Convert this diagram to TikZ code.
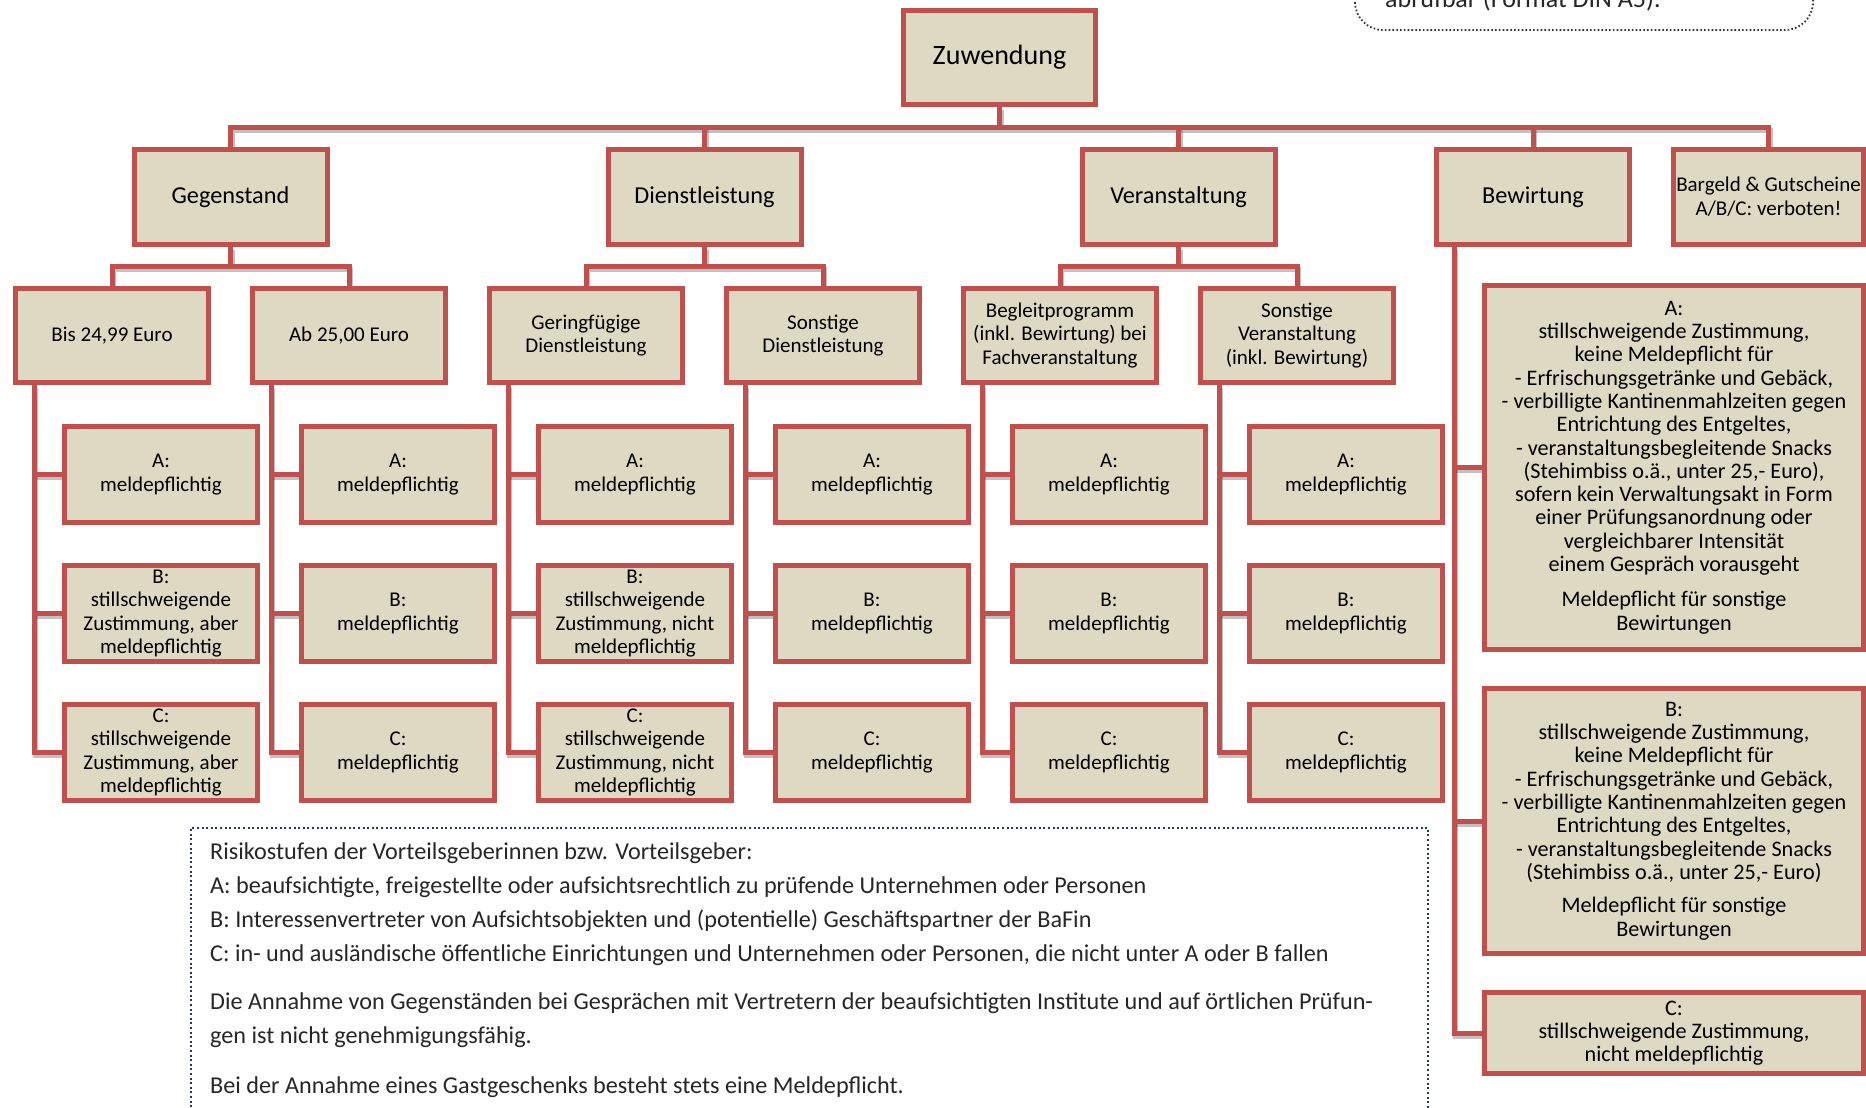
\documentclass[tikz,border=0pt]{standalone}
\usepackage{fontspec}
\setmainfont{Carlito}
\pgfdeclarelayer{bg}
\pgfsetlayers{bg,main}
\definecolor{boxred}{HTML}{C0504D}
\definecolor{boxfill}{HTML}{DDD9C3}
\definecolor{legnavy}{HTML}{1F3864}
\tikzset{
  box/.style={draw=boxred, fill=boxfill, line width=5pt, inner sep=0pt, align=center, text=black},
  lzero/.style={box, minimum width=192pt, minimum height=94pt, font=\fontsize{28}{32}\selectfont},
  lone/.style={box, minimum width=193pt, minimum height=95pt, font=\fontsize{24.3}{28}\selectfont},
  ltwo/.style={box, minimum width=193pt, minimum height=94pt, font=\fontsize{21}{23.3}\selectfont},
  lthree/.style={box, minimum width=193pt, minimum height=96pt, font=\fontsize{21}{23.3}\selectfont},
  lbew/.style={box, minimum width=379pt, font=\fontsize{22.2}{23.3}\selectfont},
  conn/.style={draw=boxred, line width=5pt, line join=miter,
    preaction={draw=black!70, opacity=0.35, line width=5pt, transform canvas={xshift=1.5pt, yshift=-3pt}}},
  legtext/.style={anchor=base west, inner sep=0pt, text=black!85, font=\fontsize{24.2}{33}\selectfont},
}
\begin{document}
\begin{tikzpicture}[x=1pt,y=-1pt]
\useasboundingbox (0,0) rectangle (1866,1108);
\clip (0,0) rectangle (1866,1108);

% top-right note box (cut off)
\draw[black!80, line width=1.8pt, dash pattern=on 1.6pt off 2.2pt, rounded corners=28pt]
  (1355,-60) rectangle (1813,30);
\node[anchor=base west, inner sep=0pt, text=black!85, font=\fontsize{26}{30}\selectfont] (note) at (1385,8) {abrufbar (Format DIN A5).};

% root
\node[lzero] (zuw) at (999.5,57.5) {Zuwendung};
% level 1
\node[lone] (geg) at (230.5,197) {Gegenstand};
\node[lone] (dl)  at (704.5,197) {Dienstleistung};
\node[lone] (ver) at (1178.5,197) {Veranstaltung};
\node[lone] (bew) at (1533,197) {Bewirtung};
\node[lone, minimum width=190pt, font=\fontsize{21}{24}\selectfont] (bar) at (1768.5,197) {Bargeld \& Gutscheine\\A/B/C: verboten!};
% level 2
\node[ltwo] (c0) at (112,335.5) {Bis 24,99 Euro};
\node[ltwo] (c1) at (349,335.5) {Ab 25,00 Euro};
\node[ltwo] (c2) at (586,335.5) {Geringfügige\\Dienstleistung};
\node[ltwo] (c3) at (823,335.5) {Sonstige\\Dienstleistung};
\node[ltwo] (c4) at (1060,335.5) {Begleitprogramm\\(inkl. Bewirtung) bei\\Fachveranstaltung};
\node[ltwo] (c5) at (1297,335.5) {Sonstige\\Veranstaltung\\(inkl. Bewirtung)};
% level 3
\node[lthree] (c0a) at (161,474.5) {A:\\meldepflichtig};
\node[lthree] (c0b) at (161,613.5) {B:\\stillschweigende\\Zustimmung, aber\\meldepflichtig};
\node[lthree] (c0c) at (161,752.5) {C:\\stillschweigende\\Zustimmung, aber\\meldepflichtig};
\node[lthree] (c1a) at (398,474.5) {A:\\meldepflichtig};
\node[lthree] (c1b) at (398,613.5) {B:\\meldepflichtig};
\node[lthree] (c1c) at (398,752.5) {C:\\meldepflichtig};
\node[lthree] (c2a) at (635,474.5) {A:\\meldepflichtig};
\node[lthree] (c2b) at (635,613.5) {B:\\stillschweigende\\Zustimmung, nicht\\meldepflichtig};
\node[lthree] (c2c) at (635,752.5) {C:\\stillschweigende\\Zustimmung, nicht\\meldepflichtig};
\node[lthree] (c3a) at (872,474.5) {A:\\meldepflichtig};
\node[lthree] (c3b) at (872,613.5) {B:\\meldepflichtig};
\node[lthree] (c3c) at (872,752.5) {C:\\meldepflichtig};
\node[lthree] (c4a) at (1109,474.5) {A:\\meldepflichtig};
\node[lthree] (c4b) at (1109,613.5) {B:\\meldepflichtig};
\node[lthree] (c4c) at (1109,752.5) {C:\\meldepflichtig};
\node[lthree] (c5a) at (1346,474.5) {A:\\meldepflichtig};
\node[lthree] (c5b) at (1346,613.5) {B:\\meldepflichtig};
\node[lthree] (c5c) at (1346,752.5) {C:\\meldepflichtig};
% Bewirtung children
\node[lbew, minimum height=364pt] (bwa) at (1674,467.5) {A:\\stillschweigende Zustimmung,\\keine Meldepflicht für\\- Erfrischungsgetränke und Gebäck,\\- verbilligte Kantinenmahlzeiten gegen\\Entrichtung des Entgeltes,\\- veranstaltungsbegleitende Snacks\\(Stehimbiss o.ä., unter 25,- Euro),\\sofern kein Verwaltungsakt in Form\\einer Prüfungsanordnung oder\\vergleichbarer Intensität\\einem Gespräch vorausgeht\\[12pt]Meldepflicht für sonstige\\Bewirtungen};
\node[lbew, minimum height=265pt] (bwb) at (1674,821) {B:\\stillschweigende Zustimmung,\\keine Meldepflicht für\\- Erfrischungsgetränke und Gebäck,\\- verbilligte Kantinenmahlzeiten gegen\\Entrichtung des Entgeltes,\\- veranstaltungsbegleitende Snacks\\(Stehimbiss o.ä., unter 25,- Euro)\\[10pt]Meldepflicht für sonstige\\Bewirtungen};
\node[lbew, minimum height=81pt] (bwc) at (1674,1033) {C:\\stillschweigende Zustimmung,\\nicht meldepflichtig};

% connectors
\coordinate (busA) at (0,127);
\coordinate (busB) at (0,266);
\coordinate (v0) at ([xshift=21pt]c0.south west);
\coordinate (v1) at ([xshift=21pt]c1.south west);
\coordinate (v2) at ([xshift=21pt]c2.south west);
\coordinate (v3) at ([xshift=21pt]c3.south west);
\coordinate (v4) at ([xshift=21pt]c4.south west);
\coordinate (v5) at ([xshift=21pt]c5.south west);
\coordinate (vb) at ([xshift=20pt]bew.south west);
\begin{pgfonlayer}{bg}
\draw[conn] (zuw.south) -- (zuw.south |- busA);
\draw[conn] (geg.north) -- (geg.north |- busA) -- (bar.north |- busA) -- (bar.north);
\draw[conn] (dl.north) -- (dl.north |- busA);
\draw[conn] (ver.north) -- (ver.north |- busA);
\draw[conn] (bew.north) -- (bew.north |- busA);
% level 2 buses
\draw[conn] (geg.south) -- (geg.south |- busB);
\draw[conn] (c0.north) -- (c0.north |- busB) -- (c1.north |- busB) -- (c1.north);
\draw[conn] (dl.south) -- (dl.south |- busB);
\draw[conn] (c2.north) -- (c2.north |- busB) -- (c3.north |- busB) -- (c3.north);
\draw[conn] (ver.south) -- (ver.south |- busB);
\draw[conn] (c4.north) -- (c4.north |- busB) -- (c5.north |- busB) -- (c5.north);
% level 3
\foreach \k in {0,...,5}{
  \draw[conn] (v\k) |- (c\k c.west);
  \draw[conn] (v\k |- c\k a.west) -- (c\k a.west);
  \draw[conn] (v\k |- c\k b.west) -- (c\k b.west);
}
\draw[conn] (vb) |- (bwc.west);
\draw[conn] (vb |- bwa.west) -- (bwa.west);
\draw[conn] (vb |- bwb.west) -- (bwb.west);
\end{pgfonlayer}

% legend
\draw[legnavy, line width=2pt, dash pattern=on 2pt off 2.6pt] (1428,1140) -- (1428,828) -- (191,828) -- (191,1140);
\node[legtext] (leg1) at (210,859) {Risikostufen der Vorteilsgeberinnen bzw. Vorteilsgeber:};
\node[legtext] (leg2) at (210,893) {A: beaufsichtigte, freigestellte oder aufsichtsrechtlich zu prüfende Unternehmen oder Personen};
\node[legtext] (leg3) at (210,927) {B: Interessenvertreter von Aufsichtsobjekten und (potentielle) Geschäftspartner der BaFin};
\node[legtext] (leg4) at (210,961) {C: in- und ausländische öffentliche Einrichtungen und Unternehmen oder Personen, die nicht unter A oder B fallen};
\node[legtext] (leg5) at (210,1009) {Die Annahme von Gegenständen bei Gesprächen mit Vertretern der beaufsichtigten Institute und auf örtlichen Prüfun-};
\node[legtext] (leg6) at (210,1043) {gen ist nicht genehmigungsfähig.};
\node[legtext] (leg7) at (210,1093) {Bei der Annahme eines Gastgeschenks besteht stets eine Meldepflicht.};
\end{tikzpicture}
\end{document}
